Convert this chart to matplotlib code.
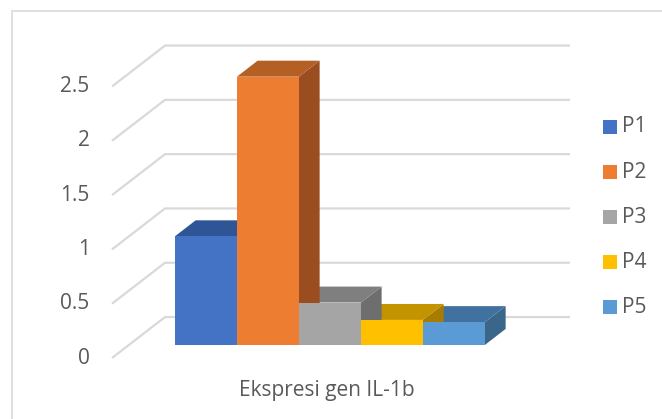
import matplotlib.pyplot as plt
from matplotlib.patches import Polygon, Rectangle

# data
seri = ["P1", "P2", "P3", "P4", "P5"]
nilai = [1.0, 2.47, 0.39, 0.23, 0.21]
kategori = "Ekspresi gen IL-1b"
ticks = [0, 0.5, 1, 1.5, 2, 2.5]

# warna muka depan, atas, samping (gaya Excel 3D)
warna_depan = ["#4472C4", "#ED7D31", "#A5A5A5", "#FFC000", "#5B9BD5"]
warna_atas = ["#2F5597", "#B45F24", "#7F7F7F", "#C49300", "#41729F"]
warna_samping = ["#2D4F8C", "#9A4E1F", "#6E6E6E", "#A77C00", "#3A6689"]

# proyeksi miring: kedalaman d (0 depan .. 1 belakang)
KX, KY = 0.855, 0.377
D0, D1 = 0.32, 0.71
X_KIRI, X_KANAN = -0.742, 5.79
FS = 15


def proj(x, y, d):
    return (x + d * KX, y + d * KY)


fig = plt.figure(figsize=(6.62, 4.19), dpi=100)
ax = fig.add_axes([0, 0, 1, 1])
ax.set_xlim(-158 / 62, (662 - 158) / 62)
ax.set_ylim((358 - 419) / 108.6, 358 / 108.6)
ax.axis("off")

# bingkai chart
fig.patches.append(Rectangle((12 / 662, -0.1), 1.2, 1 - 11 / 419 + 0.1,
                             transform=fig.transFigure, fill=False,
                             edgecolor="#d9d9d9", linewidth=1.2))

grid = "#d9d9d9"
for t in ticks:
    a = proj(X_KIRI, t, 0)
    b = proj(X_KIRI, t, 1)
    c = proj(X_KANAN, t, 1)
    ax.plot([a[0], b[0], c[0]], [a[1], b[1], c[1]], color=grid, lw=1.6,
            solid_capstyle="butt", zorder=1)
    ax.text(a[0] - 0.36, a[1], f"{t:g}", ha="right", va="center",
            fontsize=FS, color="#595959", family="Open Sans")

# atas dan samping dari kanan ke kiri, lalu muka depan
for i in reversed(range(len(nilai))):
    h = nilai[i]
    x0, x1 = i, i + 1
    atas = [proj(x0, h, D0), proj(x1, h, D0), proj(x1, h, D1), proj(x0, h, D1)]
    samping = [proj(x1, 0, D0), proj(x1, 0, D1), proj(x1, h, D1), proj(x1, h, D0)]
    ax.add_patch(Polygon(samping, closed=True, facecolor=warna_samping[i],
                         edgecolor="none", zorder=2))
    ax.add_patch(Polygon(atas, closed=True, facecolor=warna_atas[i],
                         edgecolor="none", zorder=2))
for i in range(len(nilai)):
    h = nilai[i]
    depan = [proj(i, 0, D0), proj(i + 1, 0, D0), proj(i + 1, h, D0), proj(i, h, D0)]
    ax.add_patch(Polygon(depan, closed=True, facecolor=warna_depan[i],
                         edgecolor="none", zorder=3, label=seri[i]))

# label kategori
ax.text(proj(2.5, 0, D0)[0] - 0.05, -0.30, kategori, ha="center", va="center",
        fontsize=FS, color="#595959", family="Open Sans")

# legenda
for i, s in enumerate(seri):
    yy = (358 - (127 + 45 * i)) / 108.6
    ax.add_patch(Rectangle(((603 - 158) / 62, yy - 7 / 108.6), 14 / 62, 14 / 108.6,
                           facecolor=warna_depan[i], edgecolor="none"))
    ax.text((622 - 158) / 62, yy, s, ha="left", va="center", fontsize=FS,
            color="#595959", family="Open Sans")

plt.savefig("out.png", dpi=100)
